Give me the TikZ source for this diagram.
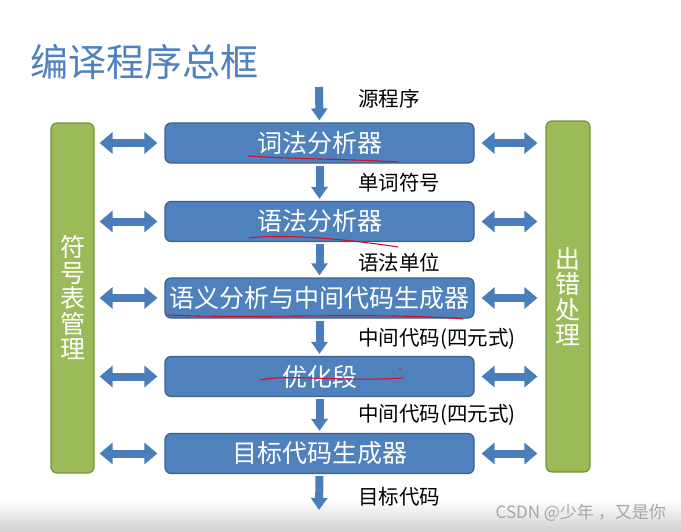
\documentclass[tikz,border=0pt]{standalone}
\usepackage{fontspec}
\setmainfont{Noto Sans CJK SC}
\usetikzlibrary{arrows.meta}
\definecolor{boxblue}{HTML}{4F81BD}
\definecolor{boxedge}{HTML}{3A6190}
\definecolor{arrowblue}{HTML}{4A7EBB}
\definecolor{barfill}{HTML}{9BBB59}
\definecolor{baredge}{HTML}{76923C}
\definecolor{titleblue}{HTML}{4F81BD}
\definecolor{wmgray}{HTML}{A6A6A6}
\definecolor{inkred}{HTML}{D0102A}
\tikzset{
  stagebox/.style={draw=boxedge, line width=1.2pt, fill=boxblue, rounded corners=6pt,
    minimum width=309pt, minimum height=40pt, text=white, inner sep=0pt,
    font=\fontsize{25}{26}\selectfont},
  sidebar/.style={draw=baredge, line width=1.2pt, fill=barfill, rounded corners=6pt,
    minimum width=43pt, minimum height=350pt, text=white, align=center, inner sep=0pt,
    font=\fontsize{25}{25.5}\selectfont},
  flowlbl/.style={anchor=west, inner sep=0pt, text=black, font=\fontsize{20.5}{22}\selectfont},
  dblarrow/.style={draw=arrowblue, line width=8pt,
    {Triangle[width=21pt,length=13pt]}-{Triangle[width=21pt,length=13pt]}},
  downarrow/.style={draw=arrowblue, line width=8pt, -{Triangle[width=16pt,length=12pt]}},
  inkline/.style={draw=inkred, line width=1.1pt, line cap=round}
}
\begin{document}
\begin{tikzpicture}[x=1pt,y=-1pt]
\fill[white] (0,0) rectangle (681,531);
\useasboundingbox (0,0) rectangle (681,531);
\shade[top color=white, bottom color=black!18] (0,500) rectangle (681,531);

% title
\node[anchor=west, inner sep=0pt, text=titleblue, font=\fontsize{38}{40}\selectfont] (title) at (30,62) {编译程序总框};

% stages
\node[stagebox] (b1) at (319.5,143) {词法分析器};
\node[stagebox] (b2) at (319.5,221.5) {语法分析器};
\node[stagebox] (b3) at (319.5,298) {语义分析与中间代码生成器};
\node[stagebox] (b4) at (319.5,376.5) {优化段};
\node[stagebox] (b5) at (319.5,453.5) {目标代码生成器};

% side bars
\node[sidebar] (sym) at (72.5,298) {符\\号\\表\\管\\理};
\node[sidebar, minimum width=44pt, minimum height=351pt] (err) at (568,296.5) {出\\错\\处\\理};

% vertical flow
\coordinate (src) at (319,87);
\coordinate (dst) at (319,510);
\draw[downarrow, shorten >=2pt] (src) -- (b1.north);
\draw[downarrow, shorten <=2pt, shorten >=2pt] (b1) -- (b2);
\draw[downarrow, shorten <=2pt, shorten >=2pt] (b2) -- (b3);
\draw[downarrow, shorten <=2pt, shorten >=2pt] (b3) -- (b4);
\draw[downarrow, shorten <=2pt, shorten >=2pt] (b4) -- (b5);
\draw[downarrow, shorten <=2pt] (b5.south) -- (dst);

% flow labels
\node[flowlbl] (l0) at (358,99) {源程序};
\node[flowlbl] (l1) at (358,183) {单词符号};
\node[flowlbl] (l2) at (358,263) {语法单位};
\node[flowlbl] (l3) at (358,339) {中间代码(四元式)};
\node[flowlbl] (l4) at (358,415) {中间代码(四元式)};
\node[flowlbl] (l5) at (358,497) {目标代码};

% double arrows
\foreach \b in {b1,b2,b3,b4,b5}{
  \draw[dblarrow, shorten <=5pt, shorten >=7pt] (sym.east |- \b.west) -- (\b.west);
  \draw[dblarrow, shorten <=7pt, shorten >=8pt] (\b.east) -- (err.west |- \b.east);
}

% red ink marks
\draw[inkline] (248,156) .. controls (290,159) and (350,159) .. (398,162);
\draw[inkline] (249,238) .. controls (280,234) and (340,238) .. (398,247);
\draw[inkline] (168,315) .. controls (250,319) and (380,312) .. (463,319);
\draw[inkline] (260,380) .. controls (290,374) and (340,382) .. (403,378);
\fill[inkred] (400,368) circle (1pt);

% watermark
\node[anchor=east, inner sep=0pt, text=wmgray, font=\fontsize{17}{19}\selectfont] (wm) at (666,513) {CSDN @少年 ，又是你};
\end{tikzpicture}
\end{document}
